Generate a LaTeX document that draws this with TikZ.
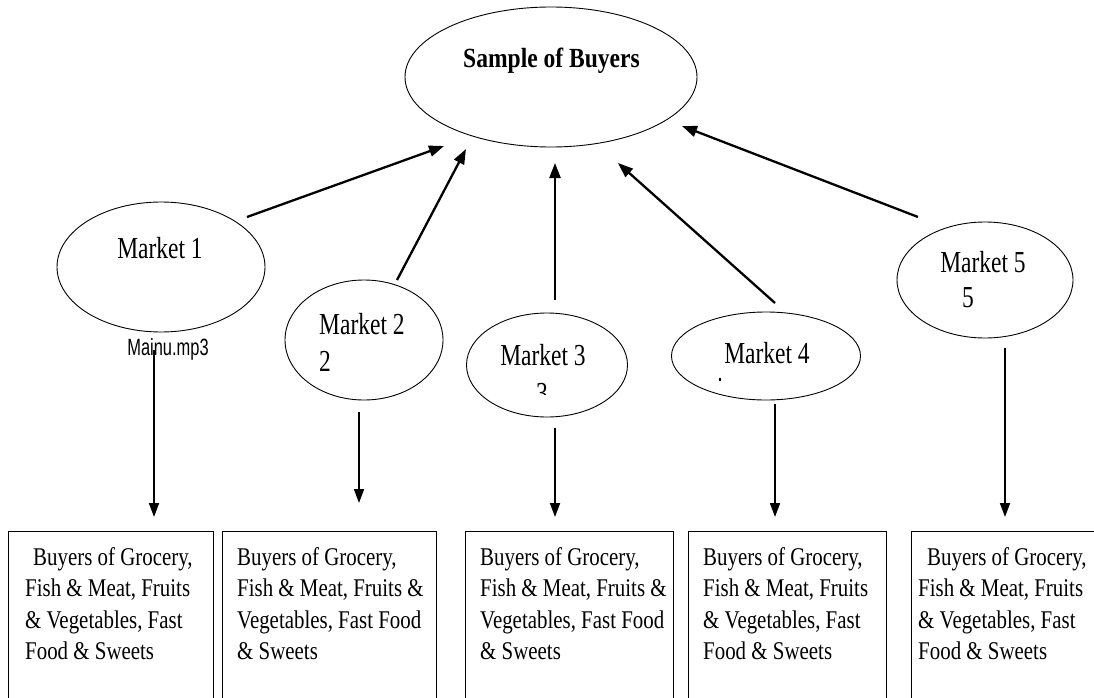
\documentclass[tikz,border=0pt]{standalone}
\usepackage{fontspec}
\setmainfont{Liberation Serif}
\newfontfamily\mktfont[FakeStretch=0.77]{Liberation Serif}
\newfontfamily\boxfont[FakeStretch=0.82]{Liberation Serif}
\newfontfamily\ttlfont[FakeStretch=0.85]{Liberation Serif}
\newfontfamily\mpfont[FakeStretch=0.70]{Liberation Sans}
\usetikzlibrary{shapes.geometric,arrows.meta}
\tikzset{
  oval/.style={ellipse, draw, line width=0.9pt, inner sep=0pt},
  boxframe/.style={draw, line width=1pt, inner sep=0pt, anchor=north west, minimum height=180pt},
  uparrow/.style={line width=2.3pt, -{Triangle[length=15pt,width=11pt]}},
  downarrow/.style={line width=1.8pt, -{Triangle[length=14pt,width=10pt]}},
  mkt/.style={anchor=base, inner sep=0pt, font=\mktfont\fontsize{30.5}{36}\selectfont},
  mktw/.style={anchor=base west, inner sep=0pt, font=\mktfont\fontsize{30.5}{36}\selectfont},
  btxt/.style={anchor=base west, inner sep=0pt, font=\boxfont\fontsize{25.5}{30}\selectfont},
}
\begin{document}
\begin{tikzpicture}[x=1pt,y=-1pt]
\useasboundingbox (0,0) rectangle (1094,698);
\clip (0,0) rectangle (1094,698);

% top ellipse
\node[oval, minimum width=292pt, minimum height=140pt] (top) at (551,77) {};
\node[anchor=base, inner sep=0pt, font=\ttlfont\bfseries\fontsize{27.7}{33}\selectfont] (toptxt) at (551.5,68) {Sample of Buyers};

% market ellipses
\node[oval, minimum width=208pt, minimum height=130pt] (m1) at (161,267) {};
\node[oval, minimum width=158pt, minimum height=120pt] (m2) at (364,340) {};
\node[oval, minimum width=161pt, minimum height=104pt] (m3) at (547,365) {};
\node[oval, minimum width=189pt, minimum height=88pt] (m4) at (766,356) {};
\node[oval, minimum width=176pt, minimum height=116pt] (m5) at (985,280) {};

% market texts
\node[mkt] (m1t) at (160,258) {Market 1};
\node[anchor=base, inner sep=0pt, font=\mpfont\fontsize{23.5}{28}\selectfont] (m1mp) at (168,355) {Mainu.mp3};
\node[mktw] (m2t) at (319,334) {Market 2};
\node[mktw] (m2n) at (319,371) {2};
\node[mkt] (m3t) at (543,365) {Market 3};
\begin{scope}
  \clip (500,370) rectangle (600,394);
  \node[mkt] (m3n) at (542,403) {3};
\end{scope}
\node[mkt] (m4t) at (767,363) {Market 4};
\fill (719,378) rectangle (721,381);
\node[mkt] (m5t) at (983,272) {Market 5};
\node[mkt] (m5n) at (968,307) {5};

% arrow end points
\coordinate (a1s) at (247,217); \coordinate (a1e) at (444,146);
\coordinate (a2s) at (397,280); \coordinate (a2e) at (466,149);
\coordinate (a3s) at (555,300); \coordinate (a3e) at (555,163);
\coordinate (a4s) at (775,303); \coordinate (a4e) at (618,163);
\coordinate (a5s) at (918,217); \coordinate (a5e) at (682,126);
\draw[uparrow] (a1s) -- (a1e);
\draw[uparrow] (a2s) -- (a2e);
\draw[uparrow] (a3s) -- (a3e);
\draw[uparrow] (a4s) -- (a4e);
\draw[uparrow] (a5s) -- (a5e);

\coordinate (d1s) at (154,350); \coordinate (d1e) at (154,517);
\coordinate (d2s) at (359,412); \coordinate (d2e) at (359,503);
\coordinate (d3s) at (555,428); \coordinate (d3e) at (555,517);
\coordinate (d4s) at (775,404); \coordinate (d4e) at (775,517);
\coordinate (d5s) at (1005,348); \coordinate (d5e) at (1005,517);
\draw[downarrow] (d1s) -- (d1e);
\draw[downarrow] (d2s) -- (d2e);
\draw[downarrow] (d3s) -- (d3e);
\draw[downarrow] (d4s) -- (d4e);
\draw[downarrow] (d5s) -- (d5e);

% boxes
\node[boxframe, minimum width=205pt] (b1) at (8,531) {};
\node[boxframe, minimum width=214pt] (b2) at (222,531) {};
\node[boxframe, minimum width=208pt] (b3) at (465,531) {};
\node[boxframe, minimum width=198pt] (b4) at (688,531) {};
\node[boxframe, minimum width=200pt] (b5) at (911,531) {};

% box texts
\node[btxt] (b1l1) at (33,565) {Buyers of Grocery,};
\node[btxt] (b1l2) at (25,596.5) {Fish \& Meat, Fruits};
\node[btxt] (b1l3) at (25,628) {\& Vegetables, Fast};
\node[btxt] (b1l4) at (25,659.5) {Food \& Sweets};

\node[btxt] (b2l1) at (237,565) {Buyers of Grocery,};
\node[btxt] (b2l2) at (237,596.5) {Fish \& Meat, Fruits \&};
\node[btxt] (b2l3) at (237,628) {Vegetables, Fast Food};
\node[btxt] (b2l4) at (237,659.5) {\& Sweets};

\node[btxt] (b3l1) at (480,565) {Buyers of Grocery,};
\node[btxt] (b3l2) at (480,596.5) {Fish \& Meat, Fruits \&};
\node[btxt] (b3l3) at (480,628) {Vegetables, Fast Food};
\node[btxt] (b3l4) at (480,659.5) {\& Sweets};

\node[btxt] (b4l1) at (703,565) {Buyers of Grocery,};
\node[btxt] (b4l2) at (703,596.5) {Fish \& Meat, Fruits};
\node[btxt] (b4l3) at (703,628) {\& Vegetables, Fast};
\node[btxt] (b4l4) at (703,659.5) {Food \& Sweets};

\node[btxt] (b5l1) at (927,565) {Buyers of Grocery,};
\node[btxt] (b5l2) at (918,596.5) {Fish \& Meat, Fruits};
\node[btxt] (b5l3) at (918,628) {\& Vegetables, Fast};
\node[btxt] (b5l4) at (918,659.5) {Food \& Sweets};
\end{tikzpicture}
\end{document}
